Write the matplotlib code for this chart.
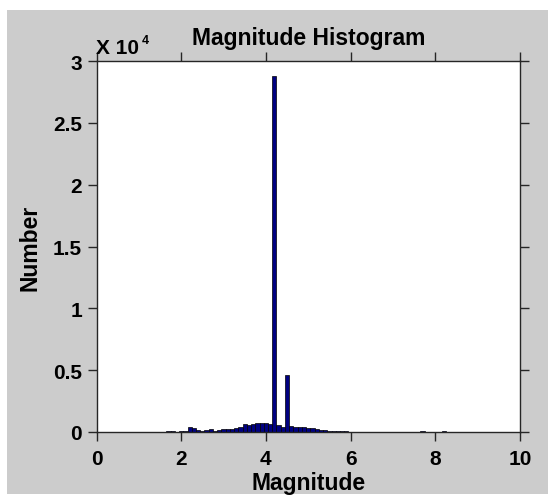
import numpy as np
import matplotlib.pyplot as plt
from matplotlib.patches import Rectangle
from matplotlib.ticker import FuncFormatter

# bin centres (0.1 wide, 1.7 .. 8.2) and counts of the magnitude histogram
bin_centers = np.arange(17, 83) / 10
counts = [90, 90, 20, 60, 60, 380, 350, 200, 120, 200,
          210, 120, 200, 220, 230, 250, 330, 420, 620, 560,
          640, 720, 760, 700, 660, 28800, 540, 400, 4630, 460,
          420, 400, 380, 330, 300, 250, 200, 160, 120, 100,
          90, 80, 70, 40, 35, 35, 32, 30, 30, 28,
          26, 25, 24, 22, 20, 18, 10, 0, 10, 0,
          80, 0, 0, 0, 0, 80]
x_ticks = [0, 2, 4, 6, 8, 10]
y_ticks = [0, 5000, 10000, 15000, 20000, 25000, 30000]

plt.rcParams['font.family'] = ['Liberation Sans', 'DejaVu Sans']
plt.rcParams['font.weight'] = 'bold'

fig = plt.figure(figsize=(5.54, 5.02), dpi=100)
fig.patch.set_facecolor('white')
# grey panel behind the axes
fig.patches.append(Rectangle((7 / 554, 1 - 495 / 502), 541 / 554, 484 / 502,
                             transform=fig.transFigure, facecolor='#cccccc',
                             edgecolor='none', zorder=-10))

ax = fig.add_axes([96.5 / 554, 1 - 433 / 502, 423.5 / 554, 371 / 502])
ax.set_facecolor('white')
ax.bar(bin_centers, counts, width=0.1, color='#000080', edgecolor='black',
       linewidth=0.5)

ax.set_xlim(0, 10)
ax.set_ylim(0, 30000)
ax.set_xticks(x_ticks)
ax.set_yticks(y_ticks)
ax.yaxis.set_major_formatter(FuncFormatter(lambda v, p: '%g' % (v / 1e4)))

ax.tick_params(direction='out', length=6.5, width=1, color='#262626',
               labelsize=15, top=True, right=True, pad=4)
ax.tick_params(axis='x', pad=6)
for t in ax.get_xticklabels() + ax.get_yticklabels():
    t.set_fontweight('bold')
for s in ax.spines.values():
    s.set_color('#262626')
    s.set_linewidth(1)

ax.set_title('Magnitude Histogram', fontsize=16.5, fontweight='bold', pad=12)
ax.set_xlabel('Magnitude', fontsize=16.5, fontweight='bold', labelpad=2)
ax.set_ylabel('Number', fontsize=16.5, fontweight='bold', labelpad=8)

# exponent label at top left
ax.text(0.0, 1.0226, 'X 10', transform=ax.transAxes, fontsize=15,
        fontweight='bold', ha='left', va='baseline')
ax.text(0.106, 1.048, '4', transform=ax.transAxes, fontsize=9,
        fontweight='bold', ha='left', va='baseline')

fig.savefig('out.png', dpi=100)
